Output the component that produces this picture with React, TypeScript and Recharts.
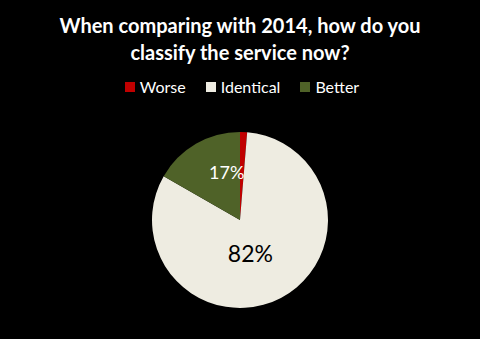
import { PieChart, Pie, Cell } from "recharts";

const categories = ["Worse", "Identical", "Better"];
const shares = [1.3, 82, 16.7];
const colors = ["#C00000", "#EEECE1", "#4F6228"];
const titleLines = ["When comparing with 2014, how do you", "classify the service now?"];

const data = categories.map((name, i) => ({ name, value: shares[i] }));
const total = shares.reduce((a, b) => a + b, 0);

const RAD = Math.PI / 180;

// per-slice label placement (radius fraction, nudge)
const labelStyle: Record<string, { r: number; dx: number; dy: number; size: number; fill: string }> = {
  Identical: { r: 0.4, dx: -6, dy: 2, size: 23, fill: "#000000" },
  Better: { r: 0.55, dx: 11, dy: -6, size: 18, fill: "#FFFFFF" },
};

function renderLabel(props: any) {
  const { cx, cy, midAngle, outerRadius, name, value } = props;
  const s = labelStyle[name];
  if (!s) return null;
  const r = outerRadius * s.r;
  const x = cx + r * Math.cos(-midAngle * RAD) + s.dx;
  const y = cy + r * Math.sin(-midAngle * RAD) + s.dy;
  return (
    <text x={x} y={y} fill={s.fill} fontSize={s.size} textAnchor="middle" dominantBaseline="central" fontFamily="Lato, sans-serif">
      {Math.round((value / total) * 100)}%
    </text>
  );
}

export default function App() {
  return (
    <div style={{ position: "absolute", left: 0, top: 0, width: 480, height: 339, background: "#000000", overflow: "hidden" }}>
      <div style={{ position: "absolute", top: 12, left: 0, width: 480, textAlign: "center", color: "#FFFFFF", fontFamily: "Lato, sans-serif", fontWeight: 700, fontSize: 20, lineHeight: "27px" }}>
        {titleLines.map((t) => <div key={t}>{t}</div>)}
      </div>
      <div style={{ position: "absolute", top: 76, left: 2, width: 480, display: "flex", justifyContent: "center", gap: 20, fontFamily: "Lato, sans-serif", fontSize: 16, lineHeight: "22px", color: "#FFFFFF" }}>
        {categories.map((c, i) => (
          <span key={c} style={{ display: "flex", alignItems: "center" }}>
            <span style={{ width: 10, height: 10, background: colors[i], marginRight: 5, display: "inline-block" }} />
            {c}
          </span>
        ))}
      </div>
      <PieChart width={480} height={339} margin={{ top: 0, right: 0, bottom: 0, left: 0 }} style={{ position: "absolute", left: 0, top: 0 }}>
        <Pie
          data={data}
          dataKey="value"
          nameKey="name"
          cx={240}
          cy={220}
          outerRadius={88}
          startAngle={90}
          endAngle={-270}
          stroke="none"
          label={renderLabel}
          labelLine={false}
          isAnimationActive={false}
        >
          {data.map((d, i) => <Cell key={d.name} fill={colors[i]} />)}
        </Pie>
      </PieChart>
    </div>
  );
}
